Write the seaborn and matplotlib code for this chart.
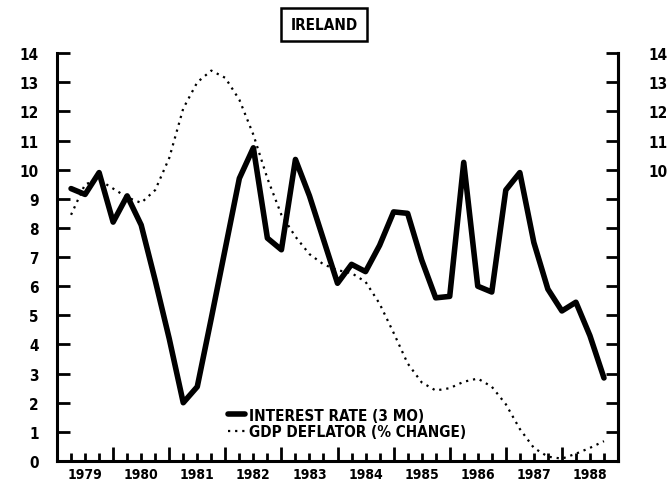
import matplotlib
matplotlib.use('Agg')
import matplotlib.pyplot as plt
import numpy as np
import pandas as pd
import seaborn as sns

# quarterly observations, 1979 Q1 .. 1988 Q3 (plotted at quarter ends)
quarters = [1979.25 + 0.25 * i for i in range(39)]

interest_rate = [9.35, 9.15, 9.9, 8.2, 9.1, 8.1, 6.2, 4.2, 2.0, 2.55,
                 4.9, 7.3, 9.7, 10.75, 7.65, 7.25, 10.35, 9.1, 7.6, 6.1,
                 6.75, 6.5, 7.4, 8.55, 8.5, 6.9, 5.6, 5.65, 10.25, 6.0,
                 5.8, 9.3, 9.9, 7.5, 5.9, 5.15, 5.45, 4.3, 2.85]

gdp_deflator = [8.45, 9.5, 9.65, 9.35, 9.05, 8.86, 9.3, 10.4, 12.1, 13.0,
                13.4, 13.15, 12.4, 11.2, 9.7, 8.45, 7.7, 7.1, 6.75, 6.55,
                6.45, 6.15, 5.4, 4.4, 3.35, 2.7, 2.42, 2.5, 2.72, 2.83,
                2.55, 1.95, 1.1, 0.45, 0.15, 0.08, 0.25, 0.45, 0.68]

year_labels = ['1979', '1980', '1981', '1982', '1983',
               '1984', '1985', '1986', '1987', '1988']
y_ticks = list(range(0, 15))

df = pd.DataFrame({'date': quarters,
                   'INTEREST RATE (3 MO)': interest_rate,
                   'GDP DEFLATOR (% CHANGE)': gdp_deflator})

sns.set_style('ticks')
plt.rcParams['font.family'] = ['DejaVu Sans']
plt.rcParams['font.stretch'] = 'condensed'
plt.rcParams['font.weight'] = 'bold'
plt.rcParams['text.color'] = 'black'
plt.rcParams['xtick.color'] = 'black'
plt.rcParams['ytick.color'] = 'black'
plt.rcParams['axes.edgecolor'] = 'black'

fig = plt.figure(figsize=(6.71, 4.81), dpi=100)
ax = fig.add_axes([0.085, 0.0395, 0.836, 0.848])

sns.lineplot(data=df, x='date', y='INTEREST RATE (3 MO)', ax=ax,
             color='black', linewidth=4, label='INTEREST RATE (3 MO)')
sns.lineplot(data=df, x='date', y='GDP DEFLATOR (% CHANGE)', ax=ax,
             color='black', linewidth=1.6, linestyle=(0, (1, 2.2)),
             label='GDP DEFLATOR (% CHANGE)')

ax.set_xlim(1979, 1989)
ax.set_ylim(0, 14)
ax.set_xlabel('')
ax.set_ylabel('')

# x axis: tall ticks at year boundaries, short quarterly ticks, labels mid-year
years = list(range(1979, 1990))
ax.set_xticks(years, labels=[''] * len(years))
minor_pos = [y + q for y in range(1979, 1989) for q in (0.25, 0.5, 0.75)]
minor_lab = []
for p in minor_pos:
    minor_lab.append(year_labels[int(p) - 1979] if abs(p % 1 - 0.5) < 1e-6 else '')
ax.set_xticks(minor_pos, labels=minor_lab, minor=True)
ax.tick_params(axis='x', which='major', direction='in', length=10, width=2)
ax.tick_params(axis='x', which='minor', direction='in', length=6, width=2,
               labelsize=10, pad=4)

ax.set_yticks(y_ticks, labels=[str(v) for v in y_ticks])
ax.tick_params(axis='y', which='major', direction='in', length=9, width=2,
               labelsize=11, pad=13)

for s in ['left', 'bottom', 'right']:
    ax.spines[s].set_linewidth(2.2)
ax.spines['top'].set_visible(False)

# right hand axis, same scale; labels sit near the sheet edge
ax2 = ax.twinx()
ax2.set_ylim(0, 14)
ax2.set_yticks(y_ticks, labels=[str(v) if v >= 10 else '' for v in y_ticks])
ax2.tick_params(axis='y', direction='in', length=9, width=2,
                labelsize=11, pad=22)
ax2.spines['right'].set_linewidth(2.2)
ax2.spines['top'].set_visible(False)
ax2.spines['left'].set_visible(False)
ax2.spines['bottom'].set_visible(False)

leg = ax.legend(loc='center left', bbox_to_anchor=(0.305, 0.092), frameon=False,
                handlelength=1.1, handletextpad=0.25, labelspacing=0.1,
                fontsize=11, borderaxespad=0, borderpad=0)
for t in leg.get_texts():
    t.set_fontweight('bold')

fig.text(0.483, 0.947, 'IRELAND', ha='center', va='center', fontsize=11,
         fontweight='bold',
         bbox=dict(boxstyle='square,pad=0.6', facecolor='white',
                   edgecolor='black', linewidth=1.8))

fig.savefig('out.png', dpi=100)
